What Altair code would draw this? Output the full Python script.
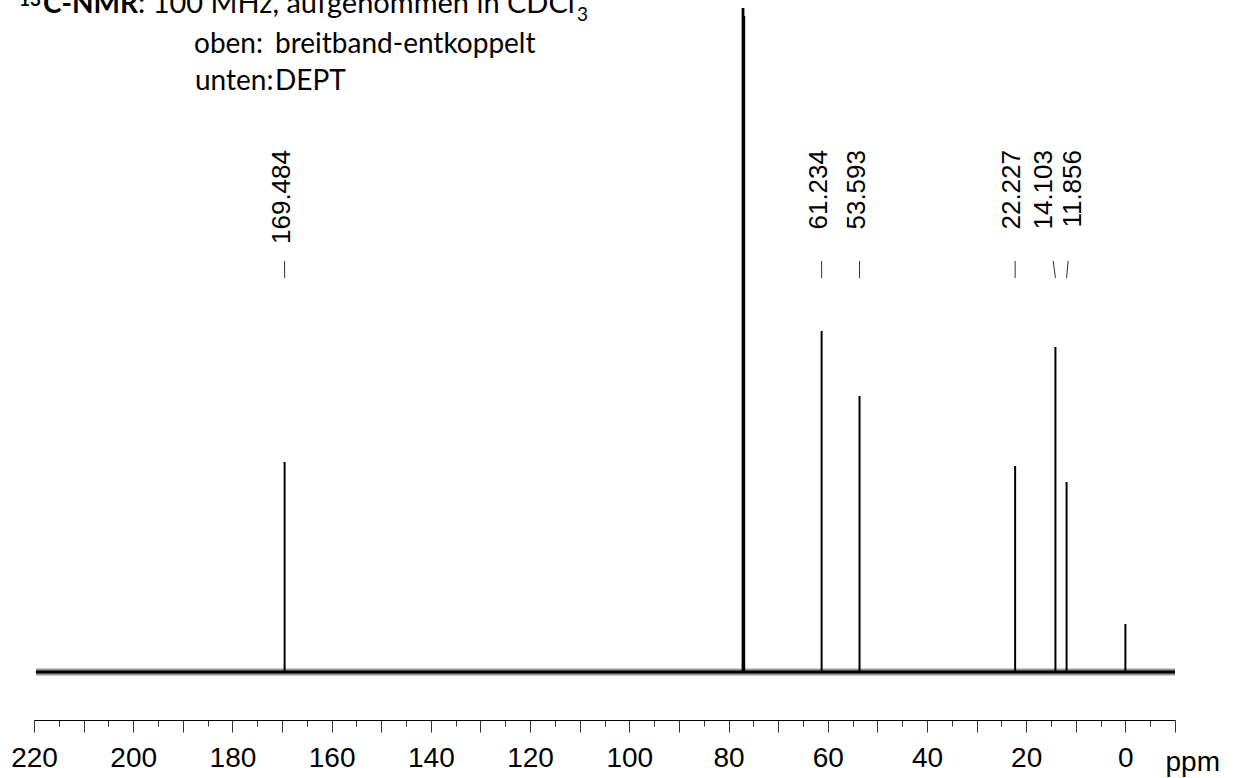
import altair as alt
import pandas as pd

# ---- data ----
peak_ppm = [169.484, 77.16, 77.00, 76.84, 61.234, 53.593, 22.227, 14.103, 11.856, 0.0]
peak_height = [210, 664, 664, 656, 341, 276, 206, 325, 190, 48]

label_ppm = [169.484, 61.234, 53.593, 22.227, 14.103, 11.856]
label_text = ["169.484", "61.234", "53.593", "22.227", "14.103", "11.856"]
label_pos_ppm = [169.484, 61.234, 53.593, 22.227, 15.9, 9.9]
label_tick_top_ppm = [169.484, 61.234, 53.593, 22.227, 14.55, 11.55]

baseline_ppm = [219.6, -10.0]
baseline_int = [0, 0]

x_domain = [-10, 220]
tick_values = list(range(-10, 221, 5))
y_domain = [-48, 672]

W, H = 1141, 720
NUM_FONT = "Liberation Sans"
TXT_FONT = "Lato"

xscale = alt.Scale(domain=x_domain, reverse=True, nice=False, zero=False)
yscale = alt.Scale(domain=y_domain, nice=False, zero=False)

peaks = pd.DataFrame({"ppm": peak_ppm, "h": peak_height, "z": [0] * len(peak_ppm)})
labels = pd.DataFrame({"ppm": label_ppm, "label": label_text,
                       "lpos": label_pos_ppm, "ttop": label_tick_top_ppm})
base = pd.DataFrame({"ppm": baseline_ppm, "i": baseline_int})

x_axis = alt.Axis(
    values=tick_values,
    labelExpr="datum.value % 20 === 0 ? datum.label : ''",
    tickSize={"condition": {"test": "datum.value % 10 === 0", "value": 12}, "value": 6},
    tickColor="#333333",
    tickWidth=1,
    domainColor="#000000",
    domainWidth=1,
    labelFont=NUM_FONT,
    labelFontSize=28,
    labelColor="#000000",
    labelPadding=12,
    labelFlush=False,
    labelOverlap=False,
    grid=False,
    title="ppm",
    titleFont=NUM_FONT,
    titleFontSize=28,
    titleFontWeight="normal",
    titleColor="#000000",
    titleAlign="left",
    titleBaseline="alphabetic",
    titleX=1131,
    titleY=50,
)


def X(field):
    return alt.X(field, scale=xscale, axis=x_axis, title="ppm")


fuzz_layer = alt.Chart(base).mark_line(color="#000000", strokeWidth=7, opacity=0.4).encode(
    x=X("ppm:Q"),
    y=alt.Y("i:Q", scale=yscale, axis=None),
)

baseline_layer = alt.Chart(base).mark_line(color="#000000", strokeWidth=3).encode(
    x=X("ppm:Q"),
    y=alt.Y("i:Q", scale=yscale, axis=None),
)

peak_layer = alt.Chart(peaks).mark_rule(color="#000000", strokeWidth=2).encode(
    x=X("ppm:Q"),
    y=alt.Y("z:Q", scale=yscale, axis=None),
    y2="h:Q",
)

label_layer = alt.Chart(labels).mark_text(
    angle=270, align="right", baseline="middle", font=NUM_FONT, fontSize=26,
    color="#000000", dy=-3
).encode(
    x=X("lpos:Q"),
    y=alt.value(150),
    text="label:N",
)

label_tick_layer = alt.Chart(labels).mark_rule(color="#333333", strokeWidth=1).encode(
    x=X("ttop:Q"),
    x2="ppm:Q",
    y=alt.value(261),
    y2=alt.value(278),
)


def header(text, x, y, size=28, weight="normal", align="left"):
    return alt.Chart(pd.DataFrame({"t": [text]})).mark_text(
        align=align, baseline="alphabetic", font=TXT_FONT, fontSize=size,
        fontWeight=weight, color="#000000"
    ).encode(x=alt.value(x), y=alt.value(y), text="t:N")


headers = [
    header("13", 7, 6, size=19, weight="bold", align="right"),
    header("C-NMR", 9, 13, weight="bold"),
    header(": 100 MHz, aufgenommen in CDCl", 104, 13, size=29),
    header("3", 543, 21, size=19),
    header("oben:", 160, 53),
    header("breitband-entkoppelt", 241, 53),
    header("unten:", 161, 90),
    header("DEPT", 241, 90),
]

chart = alt.layer(
    fuzz_layer, baseline_layer, peak_layer, label_layer, label_tick_layer, *headers
).properties(
    width=W, height=H,
    background="white",
    autosize=alt.AutoSizeParams(type="none"),
    padding={"left": 34, "top": 0, "right": 60, "bottom": 58},
).configure_view(strokeWidth=0, stroke="transparent")

chart.save("out.html", embed_options={"renderer": "svg", "actions": False})
